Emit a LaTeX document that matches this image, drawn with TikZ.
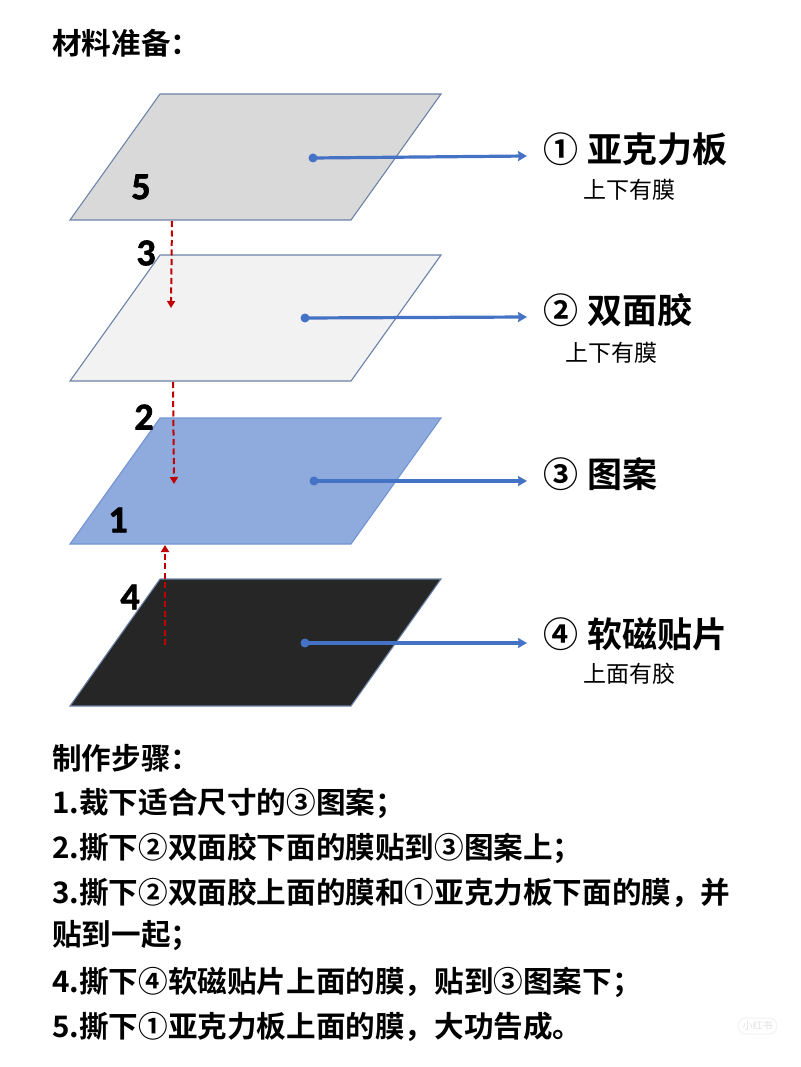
\documentclass[tikz,border=0pt]{standalone}
\usepackage{fontspec}
\usetikzlibrary{arrows.meta}
\setmainfont{Noto Sans CJK SC}[BoldFont={Noto Sans CJK SC Bold}]
\newfontfamily\numfont{Carlito}[BoldFont={Carlito Bold},BoldFeatures={FakeBold=1.6}]
\definecolor{edgeblue}{HTML}{6C82A6}
\definecolor{linkblue}{HTML}{4472C4}
\definecolor{pullred}{HTML}{C00000}
\tikzset{
  x=1pt,y=-1pt,
  sheet/.style={draw=edgeblue,line width=1.1pt,line join=miter},
  dot/.style={circle,fill=linkblue,inner sep=0pt,minimum size=9pt},
  link/.style={draw=linkblue,line width=3.2pt,-{Stealth[length=9pt,width=10pt,inset=1pt]},shorten <=-1pt},
  pull/.style={draw=pullred,line width=2pt,dash pattern=on 6pt off 3.5pt,-{Triangle[length=7pt,width=8pt]}},
  step num/.style={font=\numfont\bfseries\fontsize{38}{38}\selectfont,text=black,inner sep=0pt},
  big/.style={font=\bfseries\fontsize{35}{36}\selectfont,anchor=west,inner sep=0pt},
  small/.style={font=\fontsize{23}{24}\selectfont,anchor=west,inner sep=0pt},
  body/.style={font=\bfseries\fontsize{29.6}{30}\selectfont,anchor=west,inner sep=0pt},
  mark pill/.style={draw=black!5,line width=1pt,rounded corners=8pt,minimum width=39pt,minimum height=16pt,inner sep=0pt,text=black!12,font=\fontsize{10}{10}\selectfont},
}
\begin{document}
\begin{tikzpicture}
\useasboundingbox (0,0) rectangle (800,1067);
% sheets
\fill[sheet,fill=black!15!white] (160,94) -- (441,94) -- (351,220) -- (70,220) -- cycle;
\fill[sheet,fill=black!5!white] (160,255) -- (441,255) -- (351,381) -- (70,381) -- cycle;
\fill[sheet,fill=linkblue!60!white,draw=linkblue!75!white] (160,418) -- (441,418) -- (351,544) -- (70,544) -- cycle;
\fill[sheet,fill=black!85!white] (160,579) -- (441,579) -- (351,706) -- (70,706) -- cycle;
% step numbers
\node[step num] (n5) at (141,187) {5};
\node[step num] (n3) at (146,253) {3};
\node[step num] (n2) at (144,417) {2};
\node[step num] (n1) at (118,520) {1};
\node[step num] (n4) at (130,597) {4};
% red pull arrows
\coordinate (r1a) at (172,221); \coordinate (r1b) at (171,308);
\coordinate (r2a) at (173,382); \coordinate (r2b) at (174,484);
\coordinate (r3a) at (165,645); \coordinate (r3b) at (165,545);
\draw[pull] (r1a) -- (r1b);
\draw[pull] (r2a) -- (r2b);
\draw[pull] (r3a) -- (r3b);
% blue links
\node[dot] (d1) at (313,158) {};
\node[dot] (d2) at (305,318) {};
\node[dot] (d3) at (314,481) {};
\node[dot] (d4) at (305,643) {};
\coordinate (t1) at (527,156);
\coordinate (t2) at (527,317);
\coordinate (t3) at (527,481);
\coordinate (t4) at (527,643);
\draw[link] (d1.center) -- (t1);
\draw[link] (d2.center) -- (t2);
\draw[link] (d3.center) -- (t3);
\draw[link] (d4.center) -- (t4);
% labels
\node[big] (l1) at (543,149) {①\hspace{9pt}亚克力板};
\node[small] (s1) at (583,190) {上下有膜};
\node[big] (l2) at (543,310) {②\hspace{9pt}双面胶};
\node[small] (s2) at (565,353) {上下有膜};
\node[big] (l3) at (543,474) {③\hspace{9pt}图案};
\node[big] (l4) at (543,634) {④\hspace{9pt}软磁贴片};
\node[small] (s4) at (583,674) {上面有胶};
% text
\node[body] (h1) at (52,43) {材料准备：};
\node[body] (h2) at (52,758) {制作步骤：};
\node[body] (b1) at (52,803) {1.裁下适合尺寸的③图案；};
\node[body] (b2) at (52,848) {2.撕下②双面胶下面的膜贴到③图案上；};
\node[body] (b3) at (52,893) {3.撕下②双面胶上面的膜和①亚克力板下面的膜，并};
\node[body] (b3b) at (52,936) {贴到一起；};
\node[body] (b4) at (52,982) {4.撕下④软磁贴片上面的膜，贴到③图案下；};
\node[body] (b5) at (52,1027) {5.撕下①亚克力板上面的膜，大功告成。};
% faint watermark
\node[mark pill] (wm) at (757.5,1026) {小红书};
\end{tikzpicture}
\end{document}
